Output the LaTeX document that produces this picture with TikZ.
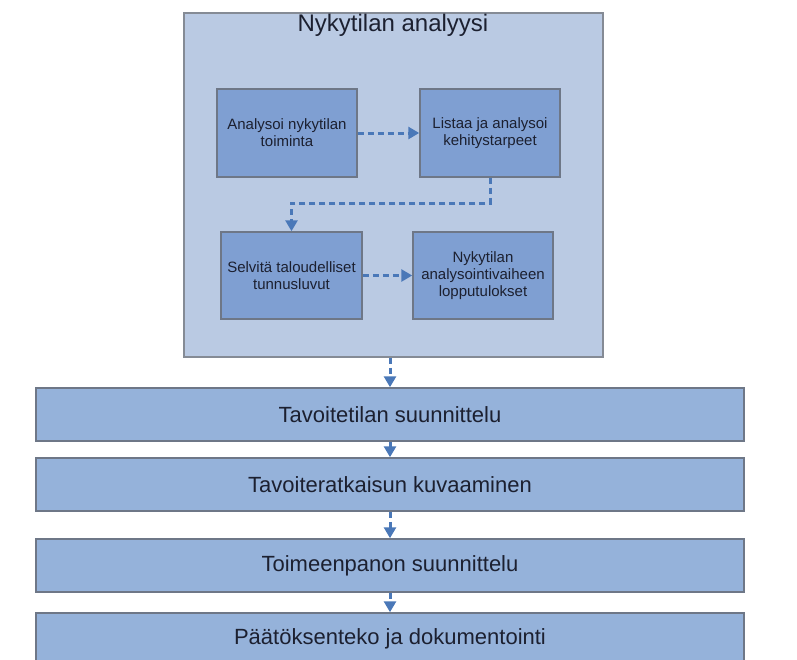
\documentclass[tikz,border=0pt]{standalone}
\usepackage{fontspec}
\setmainfont{Liberation Sans}
\usetikzlibrary{arrows.meta}
\definecolor{outerfill}{HTML}{BACAE3}
\definecolor{innerfill}{HTML}{7F9FD2}
\definecolor{rowfill}{HTML}{95B2DA}
\definecolor{bordergray}{HTML}{6E7787}
\definecolor{outerborder}{HTML}{858B95}
\definecolor{arrowblue}{HTML}{4A78B8}
\definecolor{txt}{HTML}{1C2030}
\begin{document}
\begin{tikzpicture}[x=1pt,y=-1pt,
 outerbox/.style={draw=outerborder, line width=1.5pt, fill=outerfill, minimum width=419pt, minimum height=344pt, inner sep=0pt},
 innerbox/.style={draw=bordergray, line width=1.5pt, fill=innerfill, minimum width=140pt, minimum height=88pt, align=center, font=\fontsize{15}{17}\selectfont, text=txt, inner sep=2pt},
 rowbox/.style={draw=bordergray, line width=1.5pt, fill=rowfill, minimum width=708pt, minimum height=53pt, font=\fontsize{22}{26}\selectfont, text=txt, inner sep=0pt},
 flow/.style={arrowblue, line width=3pt, dash pattern=on 6pt off 4pt, -{Triangle[length=11pt,width=12pt]}},
 titletext/.style={font=\fontsize{24}{28}\selectfont, text=txt, anchor=base, inner sep=0pt}
 ]
\useasboundingbox (0,0) rectangle (797,659);
\clip (0,0) rectangle (797,659);
\fill[white] (0,0) rectangle (797,659);
% outer container
\node[outerbox] (outer) at (393.5,185) {};
\node[titletext] (title) at (393,31) {Nykytilan analyysi};
% inner boxes
\node[innerbox] (A) at (287,133) {Analysoi nykytilan\\toiminta};
\node[innerbox] (B) at (490,133) {Listaa ja analysoi\\kehitystarpeet};
\node[innerbox, minimum width=141pt, minimum height=87pt] (C) at (291.5,275.5) {Selvitä taloudelliset\\tunnusluvut};
\node[innerbox, minimum width=140pt, minimum height=87pt] (D) at (483,275.5) {Nykytilan\\analysointivaiheen\\lopputulokset};
\coordinate (bend) at (490,203);
\draw[flow] (A.east) -- (B.west);
\draw[flow] (B.south) -- (bend) -| (C.north);
\draw[flow] (C.east) -- (D.west);
% rows
\node[rowbox] (r1) at (390,414.5) {Tavoitetilan suunnittelu};
\node[rowbox] (r2) at (390,484.5) {Tavoiteratkaisun kuvaaminen};
\node[rowbox] (r3) at (390,565.5) {Toimeenpanon suunnittelu};
\node[rowbox, minimum height=60pt] (r4) at (390,643) {\raisebox{12pt}{Päätöksenteko ja dokumentointi}};
\draw[flow] (r1.north |- outer.south) -- (r1.north);
\draw[flow] (r1.south) -- (r2.north);
\draw[flow] (r2.south) -- (r3.north);
\draw[flow] (r3.south) -- (r4.north);
\end{tikzpicture}
\end{document}
